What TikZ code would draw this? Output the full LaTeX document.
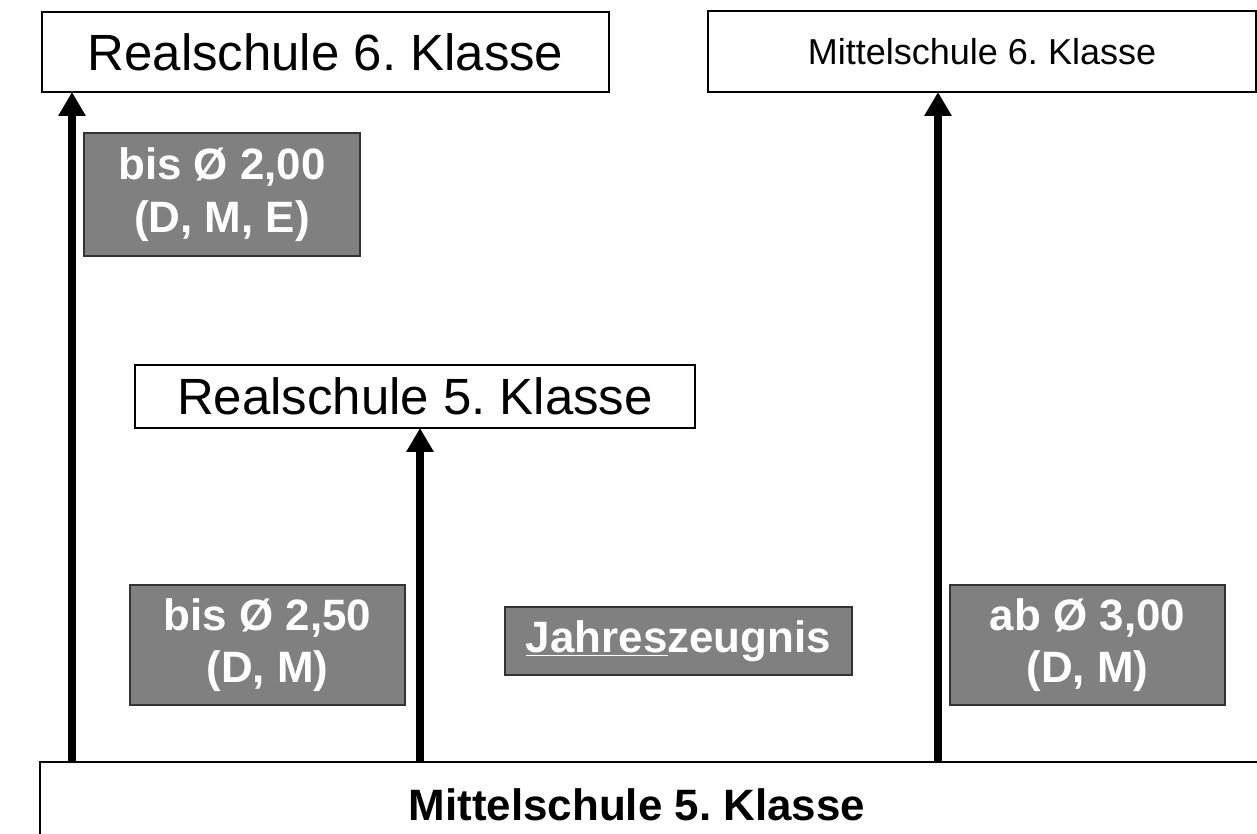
\documentclass[tikz,border=0pt]{standalone}
\usepackage{fontspec}
\setmainfont{Liberation Sans}
\frenchspacing
\usetikzlibrary{arrows.meta}
\tikzset{klasse/.style = {draw, line width = 1.3pt, fill = white, inner sep = 0, outer sep = 0}}
\tikzset{hinweis/.style = {draw = black!80, line width = 1pt, fill = grau, text = white, inner sep = 0, outer sep = 0,
    align = center, font = \fontsize{25}{30}\selectfont\bfseries}}
\tikzset{pfeil/.style = {line width = 4pt, -{Triangle[length = 0.48cm, width = 0.52cm]}}}
\definecolor{grau}{rgb}{0.5, 0.5, 0.5}

\begin{document}
\begin{tikzpicture}[x = 0.02cm, y = -0.02cm]
      \useasboundingbox (0, 0) rectangle (1257, 834);

      \node [klasse, minimum width = 11.34cm, minimum height = 1.6cm, font = \fontsize{29}{35}\selectfont]
        (rs6) at (325.5, 52) {Realschule 6. Klasse};
      \node [klasse, minimum width = 10.96cm, minimum height = 1.62cm, font = \fontsize{20.5}{25}\selectfont]
        (ms6) at (982, 51.5) {Mittelschule 6. Klasse};
      \node [klasse, minimum width = 11.2cm, minimum height = 1.26cm, font = \fontsize{29}{35}\selectfont]
        (rs5) at (415, 396.5) {Realschule 5. Klasse};
      \node [klasse, minimum width = 24.8cm, minimum height = 1.72cm] (ms5) at (660, 805) {};
      \node [font = \fontsize{25}{30}\selectfont\bfseries] (ms5text) at (637, 805) {Mittelschule 5. Klasse};

      \node [hinweis, minimum width = 5.52cm, minimum height = 2.46cm] (g1) at (222, 194.5) {bis Ø 2,00\\(D, M, E)};
      \node [hinweis, minimum width = 5.5cm, minimum height = 2.4cm] (g2) at (267.5, 645) {bis Ø 2,50\\(D, M)};
      \node [hinweis, minimum width = 5.5cm, minimum height = 2.4cm] (g3) at (1087.5, 645) {ab Ø 3,00\\(D, M)};
      \node [hinweis, minimum width = 6.94cm, minimum height = 1.36cm] (jz) at (678.5, 641) {\underline{Jahres}zeugnis};

      \coordinate (a1) at (72, 0);
      \coordinate (a2) at (420, 0);
      \coordinate (a3) at (938, 0);
      \foreach \a/\ziel in {a1/rs6, a2/rs5, a3/ms6} {
        \draw [pfeil] (ms5.north -| \a) -- (\ziel.south -| \a);
      }
    \end{tikzpicture}
\end{document}
